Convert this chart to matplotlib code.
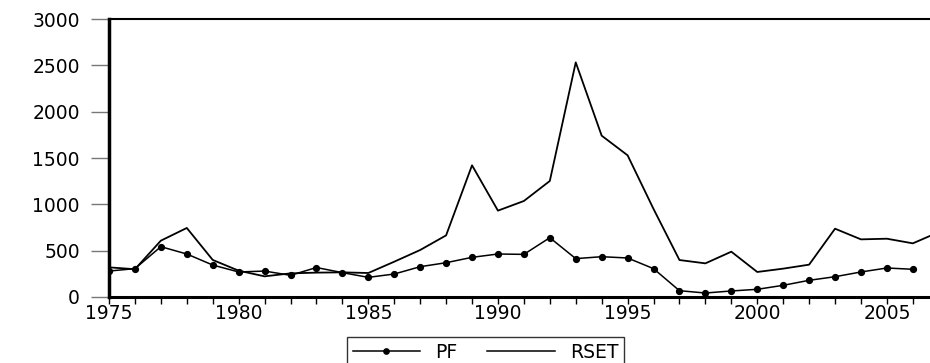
import matplotlib
matplotlib.use("Agg")
import matplotlib.pyplot as plt
from matplotlib.lines import Line2D

years_pf = list(range(1975, 2007))
pf = [280, 306, 543, 464, 345, 270, 280, 234, 318, 263, 212, 248, 327, 370, 428, 464,
      460, 640, 414, 435, 421, 306, 68, 43, 65, 83, 126, 180, 219, 270, 313, 299]
years_rset = list(range(1975, 2008))
rset = [320, 300, 608, 745, 400, 284, 223, 255, 263, 266, 259, 381, 507, 665, 1421, 932,
        1036, 1252, 2532, 1741, 1529, 950, 399, 363, 489, 270, 306, 349, 737, 622, 629, 579, 700]
y_ticks = [0, 500, 1000, 1500, 2000, 2500, 3000]
x_labels = [1975, 1980, 1985, 1990, 1995, 2000, 2005]

plt.rcParams['font.family'] = ['DejaVu Sans']
fig = plt.figure(figsize=(9.3, 3.63), dpi=100)
ax = fig.add_axes([109/930, 1 - 297/363, 1 - 109/930, (297 - 19)/363])

ax.plot(years_pf, pf, color='black', lw=1.1, marker='o', markersize=4.2, label='PF')
ax.plot(years_rset, rset, color='black', lw=1.3, label='RSET')

ax.set_xlim(1975, 1975 + 821/25.93)
ax.set_ylim(0, 3000)
ax.set_yticks(y_ticks)
ax.set_yticklabels([str(v) for v in y_ticks], fontsize=13.5)
ax.set_xticks(range(1975, 2007))
ax.set_xticklabels([str(y) if y in x_labels else '' for y in range(1975, 2007)], fontsize=13.5)
ax.tick_params(axis='y', direction='out', length=13, width=1, color='#777777', pad=8)
ax.tick_params(axis='x', direction='out', length=5, width=1, color='black', pad=0)

ax.spines['right'].set_visible(False)
ax.spines['left'].set_linewidth(2.5)
ax.spines['bottom'].set_linewidth(2.2)
ax.spines['top'].set_linewidth(1.5)

handles = [Line2D([], [], color='black', lw=1.1, marker='o', markersize=3.8),
           Line2D([], [], color='black', lw=1.1)]
leg = fig.legend(handles, ['PF', 'RSET'], loc='upper left', bbox_to_anchor=(347/930, 1 - 337/363),
                 ncol=2, fontsize=13.5, frameon=True, fancybox=False, edgecolor='black',
                 borderaxespad=0, handlelength=3.6, handletextpad=0.8, columnspacing=1.6,
                 borderpad=0.3)
leg.get_frame().set_linewidth(1.0)

fig.savefig('out.png', dpi=100)
